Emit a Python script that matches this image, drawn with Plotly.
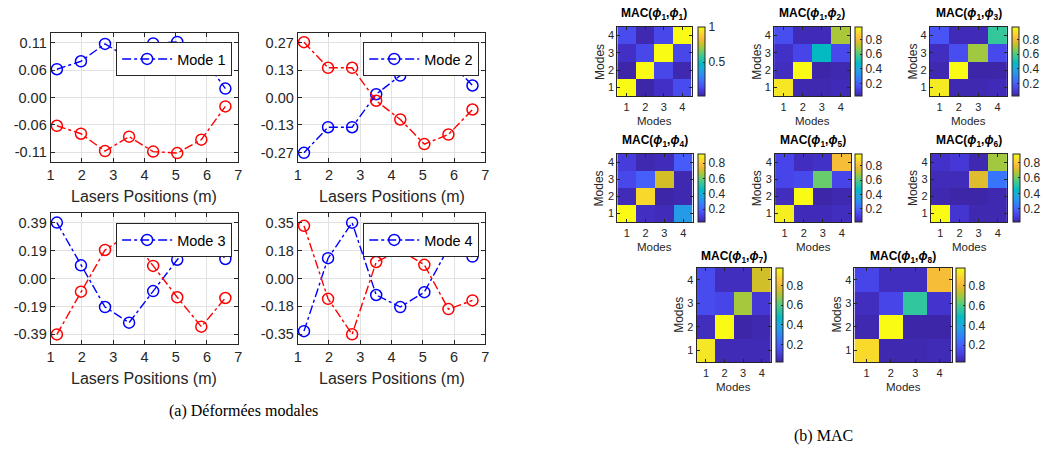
import plotly.graph_objects as go

W, H = 1047, 449

# ---------------- data ----------------
x_pos = [1.2, 1.97, 2.74, 3.51, 4.28, 5.05, 5.82, 6.59]

mode1_blue = [0.057, 0.073, 0.108, 0.079, 0.109, 0.112, 0.085, 0.018]
mode1_red = [-0.057, -0.073, -0.108, -0.079, -0.109, -0.112, -0.085, -0.018]
mode2_blue = [-0.272, -0.146, -0.146, 0.016, 0.108, 0.229, 0.182, 0.059]
mode2_red = [0.272, 0.146, 0.146, -0.016, -0.108, -0.229, -0.182, -0.059]
mode3_blue = [0.390, 0.092, -0.199, -0.308, -0.088, 0.131, 0.336, 0.136]
mode3_red = [-0.390, -0.092, 0.199, 0.308, 0.088, -0.131, -0.336, -0.136]
mode4_blue = [-0.332, 0.128, 0.352, -0.104, -0.180, -0.086, 0.193, 0.138]
mode4_red = [0.332, -0.128, -0.352, 0.104, 0.180, 0.086, -0.193, -0.138]

mode_names = ["Mode 1", "Mode 2", "Mode 3", "Mode 4"]
x_ticks = [1, 2, 3, 4, 5, 6, 7]
mode1_yticks = [-0.11, -0.055, 0, 0.055, 0.11]
mode1_ytext = ["-0.11", "-0.06", "0.00", "0.06", "0.11"]
mode2_yticks = [-0.27, -0.135, 0, 0.135, 0.27]
mode2_ytext = ["-0.27", "-0.13", "0.00", "0.13", "0.27"]
mode3_yticks = [-0.39, -0.195, 0, 0.195, 0.39]
mode3_ytext = ["-0.39", "-0.19", "0.00", "0.19", "0.39"]
mode4_yticks = [-0.35, -0.175, 0, 0.175, 0.35]
mode4_ytext = ["-0.35", "-0.18", "0.00", "0.18", "0.35"]

modes_idx = [1, 2, 3, 4]
# MAC matrices: rows = y (mode 1 at bottom ... 4 at top), cols = x (1..4)
mac_11 = [[1.00, 0.02, 0.06, 0.14],
          [0.02, 1.00, 0.13, 0.03],
          [0.06, 0.13, 1.00, 0.13],
          [0.14, 0.03, 0.13, 1.00]]
mac_12 = [[0.92, 0.04, 0.04, 0.05],
          [0.06, 0.97, 0.03, 0.04],
          [0.07, 0.13, 0.48, 0.14],
          [0.15, 0.05, 0.05, 0.70]]
mac_13 = [[0.93, 0.04, 0.04, 0.05],
          [0.04, 0.97, 0.03, 0.03],
          [0.06, 0.15, 0.69, 0.14],
          [0.17, 0.05, 0.05, 0.56]]
mac_14 = [[0.92, 0.06, 0.05, 0.34],
          [0.05, 0.84, 0.03, 0.04],
          [0.13, 0.19, 0.71, 0.04],
          [0.10, 0.04, 0.05, 0.18]]
mac_15 = [[0.93, 0.04, 0.04, 0.05],
          [0.05, 0.96, 0.02, 0.03],
          [0.12, 0.13, 0.62, 0.12],
          [0.12, 0.05, 0.06, 0.80]]
mac_16 = [[0.91, 0.08, 0.04, 0.04],
          [0.04, 0.03, 0.03, 0.04],
          [0.05, 0.05, 0.72, 0.24],
          [0.07, 0.09, 0.04, 0.65]]
mac_17 = [[0.93, 0.04, 0.04, 0.04],
          [0.05, 0.98, 0.02, 0.03],
          [0.14, 0.12, 0.70, 0.08],
          [0.14, 0.05, 0.05, 0.75]]
mac_18 = [[0.90, 0.04, 0.04, 0.05],
          [0.04, 0.98, 0.03, 0.03],
          [0.06, 0.13, 0.56, 0.08],
          [0.13, 0.06, 0.06, 0.82]]
mac_titles = ["1", "2", "3", "4", "5", "6", "7", "8"]
mac_cbar_ticks = [[0.5, 1], [0.2, 0.4, 0.6, 0.8], [0.2, 0.4, 0.6, 0.8], [0.2, 0.4, 0.6, 0.8],
                  [0.2, 0.4, 0.6, 0.8], [0.2, 0.4, 0.6, 0.8], [0.2, 0.4, 0.6, 0.8], [0.2, 0.4, 0.6, 0.8]]

# ---------------- style ----------------
def fx(px):
    return px / W


def fy(py):
    return 1 - py / H


FONT = "Liberation Sans, Arial, sans-serif"
SERIF = "Liberation Serif, Times New Roman, serif"
AX = "#262626"
GRID = "#e2e2e2"
BLUE = "#0000ff"
RED = "#ff0000"

parula_rows = [
    [0.2422, 0.1504, 0.6603], [0.2647, 0.1978, 0.7952], [0.2783, 0.2559, 0.8991],
    [0.2810, 0.3228, 0.9579], [0.2699, 0.3892, 0.9906], [0.2206, 0.4603, 0.9973],
    [0.1786, 0.5289, 0.9682], [0.1540, 0.5902, 0.9218], [0.1248, 0.6459, 0.8883],
    [0.0689, 0.6948, 0.8394], [0.0067, 0.7312, 0.7660], [0.1408, 0.7584, 0.6842],
    [0.2161, 0.7843, 0.5923], [0.3406, 0.8008, 0.4789], [0.5044, 0.7993, 0.3480],
    [0.6720, 0.7793, 0.2227], [0.8203, 0.7498, 0.1535], [0.9393, 0.7288, 0.2100],
    [0.9970, 0.7659, 0.2199], [0.9786, 0.8386, 0.1766], [0.9597, 0.9135, 0.1423],
    [0.9769, 0.9839, 0.0805]]
n = len(parula_rows)
parula = [[i / (n - 1), "rgb(%d,%d,%d)" % tuple(round(c * 255) for c in r)]
          for i, r in enumerate(parula_rows)]

fig = go.Figure()

# ---------------- mode shape panels ----------------
mode_blue = [mode1_blue, mode2_blue, mode3_blue, mode4_blue]
mode_red = [mode1_red, mode2_red, mode3_red, mode4_red]
mode_yticks = [mode1_yticks, mode2_yticks, mode3_yticks, mode4_yticks]
mode_ytext = [mode1_ytext, mode2_ytext, mode3_ytext, mode4_ytext]
mode_ranges = [[-0.130, 0.130], [-0.317, 0.317], [-0.457, 0.457], [-0.413, 0.413]]
mode_boxes = [(47, 236, 33, 162), (296, 485, 33, 162), (47, 236, 213, 344), (296, 485, 213, 344)]
legend_pos = [(113, 42), (362, 42), (113, 223), (362, 223)]

annotations = []
layout = {}
for i in range(4):
    k = i + 1
    xa = "x" if k == 1 else f"x{k}"
    ya = "y" if k == 1 else f"y{k}"
    leg = "legend" if k == 1 else f"legend{k}"
    fig.add_trace(go.Scatter(
        x=x_pos, y=mode_blue[i], mode="lines+markers", name=mode_names[i],
        line=dict(color=BLUE, width=1.4, dash="dashdot"),
        marker=dict(symbol="circle-open", size=11, color=BLUE, line=dict(width=1.5)),
        xaxis=xa, yaxis=ya, legend=leg, showlegend=True))
    fig.add_trace(go.Scatter(
        x=x_pos, y=mode_red[i], mode="lines+markers", name=mode_names[i] + " (2)",
        line=dict(color=RED, width=1.4, dash="dashdot"),
        marker=dict(symbol="circle-open", size=11, color=RED, line=dict(width=1.5)),
        xaxis=xa, yaxis=ya, showlegend=False))
    x0, x1, y0, y1 = mode_boxes[i]
    common = dict(showgrid=True, gridcolor=GRID, gridwidth=1, showline=True, mirror="ticks",
                  linecolor=AX, linewidth=1, ticks="inside", ticklen=4, tickcolor=AX,
                  zeroline=False, tickfont=dict(family=FONT, size=14.5, color=AX))
    layout["xaxis" if k == 1 else f"xaxis{k}"] = dict(
        domain=[fx(x0), fx(x1)], anchor=ya, range=[1, 7], tickvals=x_ticks, **common)
    layout["yaxis" if k == 1 else f"yaxis{k}"] = dict(
        domain=[fy(y1), fy(y0)], anchor=xa, range=mode_ranges[i],
        tickvals=mode_yticks[i], ticktext=mode_ytext[i], **common)
    lx, ly = legend_pos[i]
    layout[leg] = dict(x=fx(lx), y=fy(ly), xanchor="left", yanchor="top",
                       bgcolor="white", bordercolor=AX, borderwidth=1,
                       font=dict(family=FONT, size=14.5, color="#000000"),
                       itemwidth=50, tracegroupgap=0)
    annotations.append(dict(x=fx((x0 + x1) / 2), y=fy(y1 + 34), xref="paper", yref="paper",
                            text="Lasers Positions (m)", showarrow=False, xanchor="center",
                            yanchor="middle", font=dict(family=FONT, size=16, color=AX)))

# ---------------- MAC heatmaps ----------------
macs = [mac_11, mac_12, mac_13, mac_14, mac_15, mac_16, mac_17, mac_18]
hm_boxes = [(618, 693, 27, 96), (776, 853, 27, 96), (933, 1011, 27, 96),
            (618, 694, 154, 222), (777, 854, 154, 222), (934, 1011, 154, 222),
            (698, 773, 268, 362), (857, 955, 268, 362)]
cb_x = [699, 858, 1016, 699, 858, 1017, 778, 959]
cb_w = [7, 7, 7, 7, 7, 7, 7, 9]

for j in range(8):
    k = j + 5
    xa, ya = f"x{k}", f"y{k}"
    ca = "coloraxis" if j == 0 else f"coloraxis{j + 1}"
    fig.add_trace(go.Heatmap(z=macs[j], x=modes_idx, y=modes_idx, coloraxis=ca,
                             xaxis=xa, yaxis=ya, showlegend=False))
    x0, x1, y0, y1 = hm_boxes[j]
    common = dict(showgrid=False, showline=True, mirror="ticks", linecolor=AX, linewidth=1,
                  ticks="inside", ticklen=3, tickcolor=AX, zeroline=False,
                  range=[0.5, 4.5], tickvals=modes_idx,
                  tickfont=dict(family=FONT, size=11, color=AX))
    layout[f"xaxis{k}"] = dict(domain=[fx(x0), fx(x1)], anchor=ya, ticklabelstandoff=1, **common)
    layout[f"yaxis{k}"] = dict(domain=[fy(y1), fy(y0)], anchor=xa, **common)
    layout[ca] = dict(colorscale=parula, colorbar=dict(
        x=fx(cb_x[j]), xanchor="left", xpad=0, ypad=0,
        y=fy((y0 + y1) / 2), yanchor="middle", len=(y1 - y0), lenmode="pixels",
        thickness=cb_w[j], thicknessmode="pixels", outlinewidth=1, outlinecolor=AX,
        tickvals=mac_cbar_ticks[j], ticks="inside", ticklen=2, tickcolor=AX,
        tickfont=dict(family=FONT, size=12, color=AX)))
    ttl_off = 13 if j < 6 else 11
    annotations.append(dict(
        x=fx((x0 + x1) / 2), y=fy(y0 - ttl_off), xref="paper", yref="paper",
        text="<b>MAC(<i>ϕ</i><sub>1</sub>,<i>ϕ</i><sub>%s</sub>)</b>" % mac_titles[j],
        showarrow=False, xanchor="center", yanchor="middle",
        font=dict(family=FONT, size=12, color="#000000")))
    annotations.append(dict(x=fx((x0 + x1) / 2), y=fy(y1 + 25), xref="paper", yref="paper",
                            text="Modes", showarrow=False, xanchor="center", yanchor="middle",
                            font=dict(family=FONT, size=11.5, color=AX)))
    annotations.append(dict(x=fx(x0 - 18), y=fy((y0 + y1) / 2), xref="paper", yref="paper",
                            text="Modes", showarrow=False, xanchor="center", yanchor="middle",
                            textangle=-90, font=dict(family=FONT, size=12, color=AX)))

annotations.append(dict(x=fx(241), y=fy(411), xref="paper", yref="paper",
                        text="(a) Déformées modales", showarrow=False, xanchor="center",
                        yanchor="middle", font=dict(family=SERIF, size=16, color="#000000")))
annotations.append(dict(x=fx(826), y=fy(436), xref="paper", yref="paper",
                        text="(b) MAC", showarrow=False, xanchor="center",
                        yanchor="middle", font=dict(family=SERIF, size=16, color="#000000")))

fig.update_layout(width=W, height=H, margin=dict(l=0, r=0, t=0, b=0),
                  paper_bgcolor="white", plot_bgcolor="white",
                  font=dict(family=FONT), annotations=annotations, **layout)

fig.write_html("out.html", config={"displayModeBar": False},
               post_script="document.body.style.margin='0px';document.body.style.overflow='hidden';")
